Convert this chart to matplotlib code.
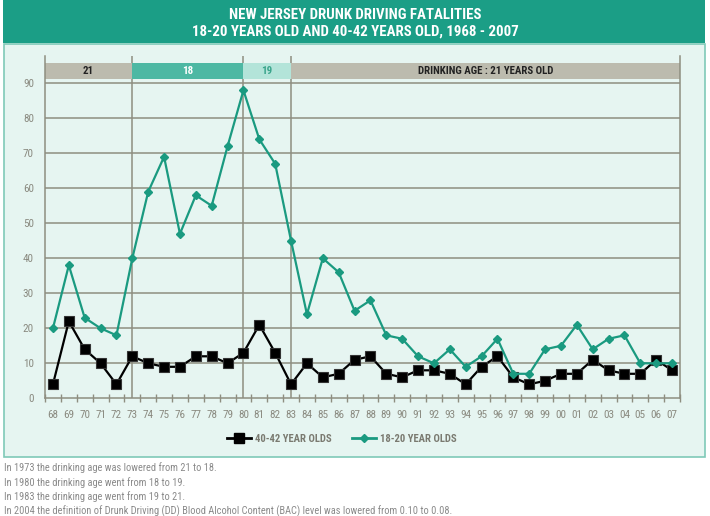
import matplotlib
matplotlib.use("Agg")
import matplotlib.pyplot as plt
from matplotlib.patches import Rectangle
from matplotlib.lines import Line2D
from matplotlib import font_manager

names = {f.name for f in font_manager.fontManager.ttflist}
COND = "DejaVu Sans"
for cand in ["Roboto Condensed", "Archivo Narrow", "PT Sans Narrow", "Liberation Sans Narrow",
             "Barlow Condensed", "Open Sans Condensed", "Encode Sans Condensed", "Fira Sans Condensed"]:
    if cand in names:
        COND = cand
        break

years = list(range(1968, 2008))
year_labels = [f"{y % 100:02d}" for y in years]
teen = [20, 38, 23, 20, 18, 40, 59, 69, 47, 58, 55, 72, 88, 74, 67, 45, 24, 40, 36,
        25, 28, 18, 17, 12, 10, 14, 9, 12, 17, 7, 7, 14, 15, 21, 14, 17, 18, 10, 10, 10]
adult = [4, 22, 14, 10, 4, 12, 10, 9, 9, 12, 12, 10, 13, 21, 13, 4, 10, 6, 7,
         11, 12, 7, 6, 8, 8, 7, 4, 9, 12, 6, 4, 5, 7, 7, 11, 8, 7, 7, 11, 8]
age_periods = [(1967.5, 1973, "21"), (1973, 1980, "18"), (1980, 1983, "19"),
               (1983, 2007.5, "DRINKING AGE : 21 YEARS OLD")]
period_colors = ["#bcbbae", "#4db8a3", "#b3e4d9", "#bcbbae"]
period_text = ["#222222", "#ffffff", "#3aa58c", "#222222"]
footnotes = [
    "In 1973 the drinking age was lowered from 21 to 18.",
    "In 1980 the drinking age went from 18 to 19.",
    "In 1983 the drinking age went from 19 to 21.",
    "In 2004 the definition of Drunk Driving (DD) Blood Alcohol Content (BAC) level was lowered from 0.10 to 0.08.",
]

W, H = 710, 516
fig = plt.figure(figsize=(W / 100, H / 100), dpi=100)
fig.patch.set_facecolor("white")

def fx(px): return px / W
def fy(py): return 1 - py / H

# header
fig.patches.append(Rectangle((fx(3), fy(43)), fx(702), 43 / H, transform=fig.transFigure,
                             facecolor="#1b9e86", edgecolor="none", zorder=-2))
# panel
fig.patches.append(Rectangle((fx(3.5), fy(457)), fx(701), (457 - 44) / H, transform=fig.transFigure,
                             facecolor="#e6f5f1", edgecolor="#7fc9b8", linewidth=1.2, zorder=-2))
fig.text(0.5, fy(15), "NEW JERSEY DRUNK DRIVING FATALITIES", ha="center", va="center",
         color="white", fontsize=10.7, fontweight="bold", family=COND)
fig.text(0.5, fy(31.5), "18-20 YEARS OLD AND 40-42 YEARS OLD, 1968 - 2007", ha="center", va="center",
         color="white", fontsize=10.7, fontweight="bold", family=COND)

ax_l, ax_r, ax_t, ax_b = 45, 680, 56, 398.3
ax = fig.add_axes([fx(ax_l), fy(ax_b), (ax_r - ax_l) / W, (ax_b - ax_t) / H])
ax.set_zorder(2)
ax.patch.set_alpha(0)
ymax = (ax_b - ax_t) / 3.5
ax.set_xlim(1967.5, 2007.5)
ax.set_ylim(0, ymax)

for v in range(10, 100, 10):
    ax.axhline(v, color="#8e8e80", linewidth=1.1, zorder=1)
for x in (1973, 1980, 1983):
    ax.axvline(x, color="#8e8e80", linewidth=1.1, zorder=1)

for (x0, x1, lab), fc, tc in zip(age_periods, period_colors, period_text):
    ax.add_patch(Rectangle((x0, 91.2), x1 - x0, 4.5, facecolor=fc, edgecolor="none", zorder=2))
    ax.text((x0 + x1) / 2, 93.45, lab, ha="center", va="center", color=tc,
            fontsize=7.8, fontweight="bold", family=COND, zorder=3)

ax.plot(years, adult, color="black", linewidth=1.6, marker="s", markersize=6.5,
        markeredgecolor="#333333", markeredgewidth=0.8, zorder=4, label="40-42 YEAR OLDS")
ax.plot(years, teen, color="#1a9a80", linewidth=1.6, marker="D", markersize=4.5,
        zorder=5, label="18-20 YEAR OLDS")

ax.spines["top"].set_visible(False)
for s in ("left", "right", "bottom"):
    ax.spines[s].set_color("#8e8e80")
    ax.spines[s].set_linewidth(1.1)

ax.set_yticks(range(0, 100, 10))
ax.set_yticklabels([str(v) for v in range(0, 100, 10)], family=COND, fontsize=8, color="#8a8a80")
ax.tick_params(axis="y", length=0, pad=8)
ax.set_xticks(years)
ax.set_xticklabels(year_labels, family=COND, fontsize=8, color="#8a8a80")
ax.tick_params(axis="x", which="major", length=0, pad=8.5)
ax.set_xticks([y + 0.5 for y in range(1967, 2008)], minor=True)
ax.tick_params(axis="x", which="minor", length=6, direction="inout", color="#8e8e80", width=1.0)

handles = [Line2D([], [], color="black", marker="s", markersize=6.5, linewidth=2),
           Line2D([], [], color="#1a9a80", marker="D", markersize=4.5, linewidth=2)]
leg = fig.legend(handles, ["40-42 YEAR OLDS", "18-20 YEAR OLDS"], loc="center",
                 bbox_to_anchor=(fx(342), fy(439)), ncol=2, frameon=False,
                 prop={"family": COND, "size": 7.7, "weight": "bold"},
                 handlelength=2.25, columnspacing=1.9, handletextpad=0.38)
for t in leg.get_texts():
    t.set_color("#7a7a70")

for i, line in enumerate(footnotes):
    fig.text(fx(4), fy(468 + i * 14.3), line, ha="left", va="center", color="#8a8a8a",
             fontsize=7.5, family=COND)

fig.savefig("out.png", dpi=100)
